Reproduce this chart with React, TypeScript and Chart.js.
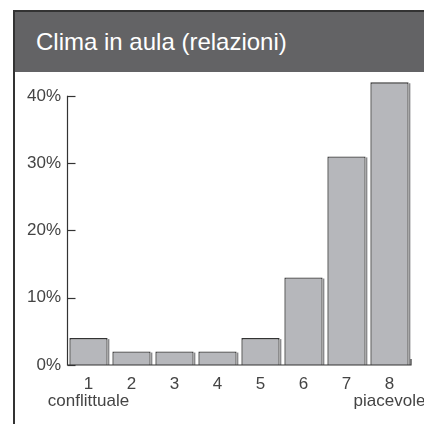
import React, { useEffect, useRef } from "react";
import { Chart, registerables } from "chart.js";

Chart.register(...registerables);

const title = "Clima in aula (relazioni)";
const categories: (string | string[])[] = [
  ["1", "conflittuale"],
  "2",
  "3",
  "4",
  "5",
  "6",
  "7",
  ["8", "piacevole"],
];
const shares = [4, 2, 2, 2, 4, 13, 31, 42];
const yTicks = [0, 10, 20, 30, 40];

const FONT = "'Liberation Sans', Arial, Helvetica, sans-serif";
const INK = "#333333";

// Draws the bracket-style axes and a soft shadow on each bar's right edge.
const axesPlugin = {
  id: "bracketAxes",
  afterDatasetsDraw(chart: any) {
    const { ctx, chartArea, scales } = chart;
    const y = scales.y;
    const meta = chart.getDatasetMeta(0);
    ctx.save();
    ctx.strokeStyle = "#8a8a8c";
    ctx.lineWidth = 1.5;
    meta.data.forEach((bar: any) => {
      const right = bar.x + bar.width / 2 + 1;
      ctx.beginPath();
      ctx.moveTo(right, bar.y + 1);
      ctx.lineTo(right, bar.base);
      ctx.stroke();
    });

    ctx.strokeStyle = INK;
    ctx.lineWidth = 1.2;
    const x0 = Math.round(chartArea.left) + 0.5;
    const yTop = y.getPixelForValue(yTicks[yTicks.length - 1]);
    const yBase = y.getPixelForValue(0);
    ctx.beginPath();
    ctx.moveTo(x0, yTop);
    ctx.lineTo(x0, yBase);
    ctx.lineTo(chartArea.right, yBase);
    ctx.lineTo(chartArea.right, yBase - 6);
    ctx.stroke();
    yTicks.forEach((v) => {
      const py = Math.round(y.getPixelForValue(v)) + 0.5;
      ctx.beginPath();
      ctx.moveTo(x0, py);
      ctx.lineTo(x0 + 8, py);
      ctx.stroke();
    });
    ctx.restore();
  },
};

export default function App() {
  const canvasRef = useRef<HTMLCanvasElement>(null);

  useEffect(() => {
    if (!canvasRef.current) return;
    const chart = new Chart(canvasRef.current, {
      type: "bar",
      data: {
        labels: categories,
        datasets: [
          {
            data: shares,
            backgroundColor: "#b6b7bb",
            borderColor: INK,
            borderWidth: 1.3,
            categoryPercentage: 1,
            barPercentage: 0.89,
          },
        ],
      },
      options: {
        animation: false,
        responsive: false,
        maintainAspectRatio: false,
        layout: { padding: { top: 7, right: 13, left: 0, bottom: 0 } },
        plugins: {
          legend: { display: false },
          tooltip: { enabled: false },
        },
        scales: {
          x: {
            grid: { display: false, drawTicks: false },
            border: { display: false },
            ticks: {
              color: "#444444",
              padding: 10,
              maxRotation: 0,
              autoSkip: false,
              font: { family: FONT, size: 17, lineHeight: 1.05 },
            },
            afterFit(scale: any) {
              scale.height = 59;
              scale.paddingLeft = 0;
              scale.paddingRight = 0;
            },
          },
          y: {
            min: 0,
            max: 42.5,
            grid: { display: false, drawTicks: false },
            border: { display: false },
            afterBuildTicks(scale: any) {
              scale.ticks = yTicks.map((v) => ({ value: v }));
            },
            ticks: {
              color: "#444444",
              padding: 6,
              font: { family: FONT, size: 17 },
              callback: (v: any) => `${v}%`,
            },
            afterFit(scale: any) {
              scale.width = 53;
              scale.paddingTop = 0;
              scale.paddingBottom = 0;
            },
          },
        },
      },
      plugins: [axesPlugin],
    });
    return () => chart.destroy();
  }, []);

  return (
    <div
      style={{
        position: "absolute",
        left: 0,
        top: 0,
        width: 424,
        height: 424,
        background: "#ffffff",
        overflow: "hidden",
        fontFamily: FONT,
      }}
    >
      <div
        style={{
          position: "absolute",
          left: 13,
          top: 10,
          width: 411,
          height: 414,
          borderLeft: `2px solid ${INK}`,
          borderTop: `2px solid ${INK}`,
          boxSizing: "border-box",
        }}
      />
      <div
        style={{
          position: "absolute",
          left: 15,
          top: 12,
          width: 409,
          height: 60,
          background: "#636365",
          color: "#ffffff",
          fontSize: 24,
          lineHeight: "60px",
          paddingLeft: 21,
          boxSizing: "border-box",
          whiteSpace: "nowrap",
        }}
      >
        {title}
      </div>
      <canvas
        ref={canvasRef}
        width={410}
        height={352}
        style={{ position: "absolute", left: 14, top: 72, width: 410, height: 352 }}
      />
    </div>
  );
}
